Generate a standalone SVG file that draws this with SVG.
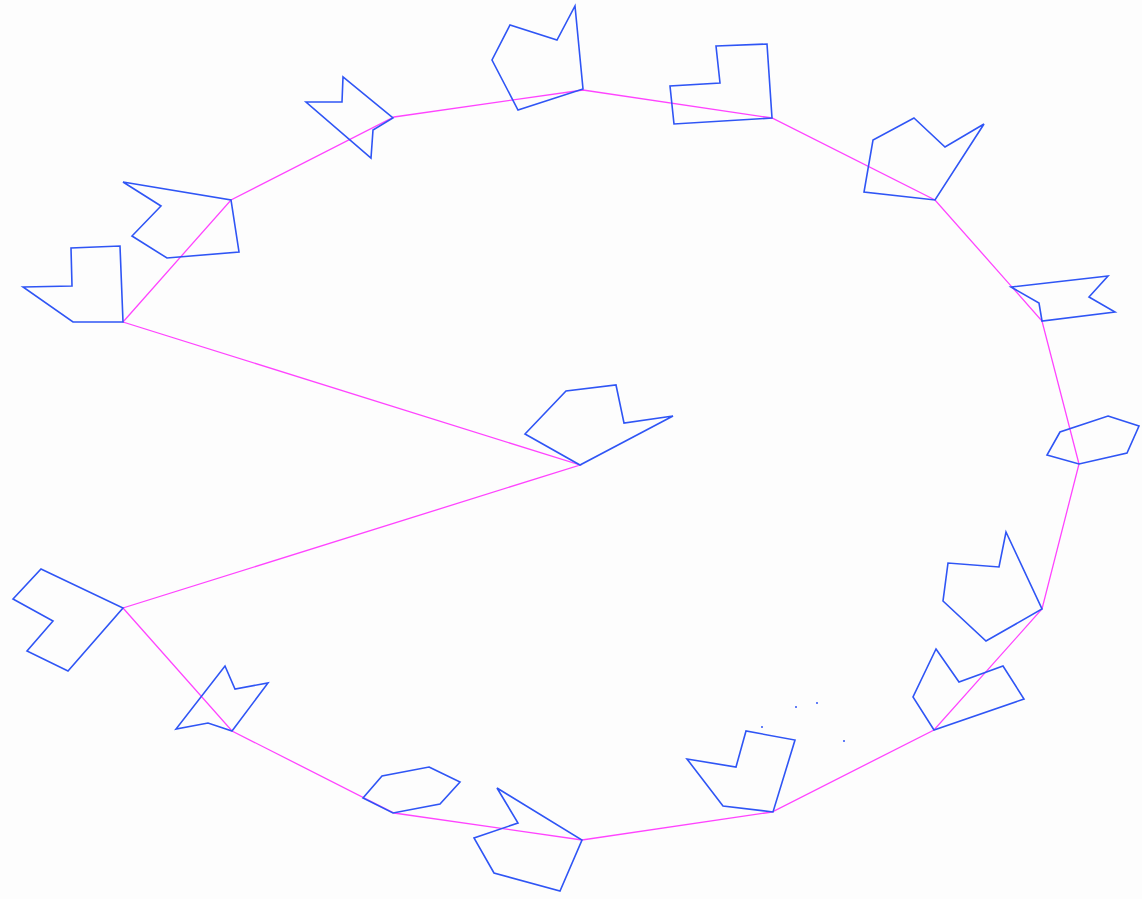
<svg xmlns="http://www.w3.org/2000/svg" width="1142" height="899" viewBox="0 0 1142 899">
<style>
.shape{fill:none;stroke:#2f55f5;stroke-width:1.6;stroke-linejoin:miter}
.link{fill:none;stroke:#ff44ff;stroke-width:1.3}
.dot{fill:#2f55f5}
</style>
<rect width="1142" height="899" fill="#fdfdfd"/>
<g id="connectors">
<polygon class="link" points="123,322 231,200 394,117 583,90 772,118 935,200 1042,321 1079,464 1042,609 934,730 772,812 582,840 394,813 232,731 123,608 580,465"/>
</g>
<g id="n1"><polygon class="shape" points="23,287 72,286 71,248 120,246 123,322 73,322"/></g>
<g id="n2"><polygon class="shape" points="123,182 231,200 239,252 167,258 132,236 161,206"/></g>
<g id="n3"><polygon class="shape" points="306,102 342,102 343,77 393,118 373,130 371,158"/></g>
<g id="n4"><polygon class="shape" points="575,6 583,89 518,110 492,60 510,25 557,40"/></g>
<g id="n5"><polygon class="shape" points="716,46 767,44 772,118 674,124 670,86 720,83"/></g>
<g id="n6"><polygon class="shape" points="914,118 945,147 984,124 935,200 864,192 873,140"/></g>
<g id="n7"><polygon class="shape" points="1011,287 1108,276 1089,297 1115,312 1042,321 1039,303"/></g>
<g id="n8"><polygon class="shape" points="1108,416 1139,426 1127,453 1079,464 1047,455 1060,432"/></g>
<g id="n9"><polygon class="shape" points="1006,532 1042,609 986,641 943,601 948,563 999,567"/></g>
<g id="n10"><polygon class="shape" points="936,649 959,682 1003,666 1024,699 934,730 913,697"/></g>
<g id="n11"><polygon class="shape" points="687,759 736,767 746,731 795,740 773,812 723,806"/></g>
<g id="n12"><polygon class="shape" points="429,767 460,782 440,804 393,813 363,798 382,776"/></g>
<g id="n13"><polygon class="shape" points="497,788 582,840 560,891 494,873 474,838 518,823"/></g>
<g id="n14"><polygon class="shape" points="225,666 235,689 268,683 232,731 208,723 176,729"/></g>
<g id="n15"><polygon class="shape" points="41,569 123,608 68,671 27,651 53,621 13,599"/></g>
<g id="n16"><polygon class="shape" points="525,434 566,391 616,385 624,423 673,416 580,465"/></g>
<g id="dots">
<circle class="dot" cx="796" cy="707" r="1"/>
<circle class="dot" cx="817" cy="703" r="1"/>
<circle class="dot" cx="762" cy="727" r="1"/>
<circle class="dot" cx="844" cy="741" r="1"/>
</g>
</svg>
